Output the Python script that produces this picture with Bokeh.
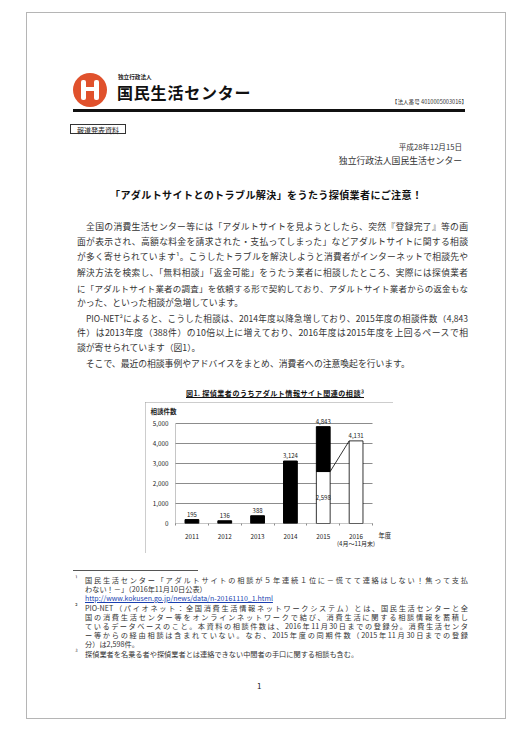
from bokeh.plotting import figure
from bokeh.models import (Range1d, FixedTicker, NumeralTickFormatter, ColumnDataSource,
                          LabelSet, Label, Div, AllLabels)
from bokeh.layouts import column, row
from bokeh.embed import file_html
from bokeh.resources import INLINE
from bokeh.core.properties import value

# ---------------- data ----------------
years = [2011, 2012, 2013, 2014, 2015, 2016]
year_labels = ["2011", "2012", "2013", "2014", "2015", "2016"]
full_years = [2011, 2012, 2013, 2014]
full_year_counts = [195, 136, 388, 3124]
count_2015 = 4843
same_period_2015 = 2598
count_2016 = 4131
y_ticks = [0, 1000, 2000, 3000, 4000, 5000]

chart_title = "図1. 探偵業者のうちアダルト情報サイト関連の相談³"
y_label = "相談件数"
x_unit = "年度"
period_note = "(4月～11月末)"

body_lines = [
    "　全国の消費生活センター等には「アダルトサイトを見ようとしたら、突然『登録完了』等の画",
    "面が表示され、高額な料金を請求された・支払ってしまった」などアダルトサイトに関する相談",
    "が多く寄せられています¹。こうしたトラブルを解決しようと消費者がインターネットで相談先や",
    "解決方法を検索し、「無料相談」「返金可能」をうたう業者に相談したところ、実際には探偵業者",
    "に「アダルトサイト業者の調査」を依頼する形で契約しており、アダルトサイト業者からの返金もな",
    "かった、といった相談が急増しています。",
    "　PIO-NET²によると、こうした相談は、2014年度以降急増しており、2015年度の相談件数（4,843",
    "件）は2013年度（388件）の10倍以上に増えており、2016年度は2015年度を上回るペースで相",
    "談が寄せられています（図1）。",
    "　そこで、最近の相談事例やアドバイスをまとめ、消費者への注意喚起を行います。",
]
body_justify = [True, True, True, True, True, False, True, True, False, False]

foot_lines = [
    ("¹", "国民生活センター「アダルトサイトの相談が５年連続１位に－慌てて連絡はしない！焦って支払", True),
    ("", "わない！－」（2016年11月10日公表）", False),
    ("", "URL", False),
    ("²", "PIO-NET（パイオネット：全国消費生活情報ネットワークシステム）とは、国民生活センターと全", True),
    ("", "国の消費生活センター等をオンラインネットワークで結び、消費生活に関する相談情報を蓄積し", True),
    ("", "ているデータベースのこと。本資料の相談件数は、2016年11月30日までの登録分。消費生活センタ", True),
    ("", "ー等からの経由相談は含まれていない。なお、2015年度の同期件数（2015年11月30日までの登録", True),
    ("", "分）は2,598件。", False),
    ("³", "探偵業者を名乗る者や探偵業者とは連絡できない中間者の手口に関する相談も含む。", False),
]
url_text = "http://www.kokusen.go.jp/news/data/n-20161110_1.html"

FONT = "'Noto Sans CJK JP', 'Noto Sans', sans-serif"
W = 519
BORDER = "#b5b5b5"
PL, PR, PT, PB = 26, 505, 12, 718


def em_len(s):
    return sum(0.56 if ord(c) < 0x2000 else 1.0 for c in s)


def txt(x, yc, s, size, width=None, justify=False, bold=False, color="#333",
        right=False, extra=""):
    if justify and width:
        size = min(size, width / (em_len(s) + 1.0))
    top = yc - size * 0.6
    st = (f"position:absolute;top:{top:.1f}px;font-size:{size:.2f}px;line-height:1.2;"
          f"font-family:{FONT};color:{color};font-weight:{'bold' if bold else 'normal'};")
    if right:
        st += f"right:{W - x}px;white-space:nowrap;text-align:right;"
    else:
        st += f"left:{x}px;"
    if justify and width:
        st += (f"width:{width}px;text-align:justify;"
               "text-align-last:justify;text-justify:inter-character;")
    else:
        st += "white-space:nowrap;"
    return f'<div style="{st}{extra}">{s}</div>'


def box(x, y, w, h, color, extra=""):
    return (f'<div style="position:absolute;left:{x}px;top:{y}px;width:{w}px;height:{h}px;'
            f'background:{color};{extra}"></div>')


def page_div(parts, h):
    html = (f'<div style="position:relative;width:{W}px;height:{h}px;'
            f'background:white;">' + "".join(parts) + "</div>")
    return Div(text=html, width=W, height=h, margin=0)


# ---------------- top part (y 0..402) ----------------
TOP_H = 402
top = [
    box(PL, PT, PR - PL, 1, BORDER),
    box(PL, PT, 1, TOP_H - PT, BORDER),
    box(PR, PT, 1, TOP_H - PT, BORDER),
    # logo
    box(73, 73, 34, 34, "#e0512c", "border-radius:50%;"),
    box(81, 80, 5, 20, "white", "border-radius:2px;"),
    box(94, 80, 5, 20, "white", "border-radius:2px;"),
    box(81, 87, 18, 4, "white"),
    txt(118, 77, "独立行政法人", 5.6, bold=True, color="#222"),
    txt(117, 93, "国民生活センター", 16, bold=True, color="#111", extra="letter-spacing:0.8px;"),
    txt(467, 102, "【法人番号 4010005003016】", 5.6, right=True, color="#333"),
    box(73, 109, 392, 3, "#111"),
    f'<div style="position:absolute;left:70px;top:124px;width:56px;height:10px;'
    f'border:1px solid #333;font-family:{FONT};font-size:7px;line-height:10px;'
    f'text-align:center;color:#222;">報道発表資料</div>',
    txt(462, 147, "平成28年12月15日", 7.6, right=True),
    txt(462, 161, "独立行政法人国民生活センター", 8.8, right=True),
    txt(110, 195, "「アダルトサイトとのトラブル解決」をうたう探偵業者にご注意！", 10.6,
        width=312, justify=True, bold=True, color="#111"),
]
BX, BW = 77, 391
for i, (s, j) in enumerate(zip(body_lines, body_justify)):
    top.append(txt(BX, 227 + 15.2 * i, s, 8.8, width=BW if j else None, justify=j))
top.append(txt(186, 393, chart_title, 7.8, width=178, justify=True, bold=True, color="#111",
               extra="text-decoration:underline;"))
top_div = page_div(top, TOP_H)

# ---------------- chart (x 145..393, y 402..553) ----------------
CH_W, CH_H = 248, 151
PX_PER_YEAR = 197 / 6.0        # 2010.5 .. 2016.5 over 197 px
PX_PER_UNIT = 100 / 5000.0     # 0 .. 5000 over 100 px
x0 = 2010.5 - 30 / PX_PER_YEAR
y0 = -30 / PX_PER_UNIT
p = figure(width=CH_W, height=CH_H,
           x_range=Range1d(x0, x0 + CH_W / PX_PER_YEAR),
           y_range=Range1d(y0, y0 + CH_H / PX_PER_UNIT),
           output_backend="svg", toolbar_location=None,
           min_border=0, min_border_left=0, min_border_right=0,
           min_border_top=0, min_border_bottom=0)
p.styles = {"outline": "1px solid #9a9a9a", "outline-offset": "-1px"}
p.outline_line_color = None
p.background_fill_color = "white"
p.border_fill_color = "white"
p.xgrid.visible = False
p.ygrid.visible = False

# axes pinned inside the frame
p.yaxis.fixed_location = 2010.5
p.xaxis.fixed_location = 0
p.yaxis.bounds = (-1, 5001)
p.xaxis.bounds = (2010.5, 2016.5)
p.yaxis.ticker = FixedTicker(ticks=y_ticks)
p.yaxis.formatter = NumeralTickFormatter(format="0,0")
p.xaxis.ticker = FixedTicker(ticks=years, minor_ticks=[y + 0.5 for y in [2010] + years])
p.xaxis.major_label_overrides = {y: l for y, l in zip(years, year_labels)}
for ax in (p.xaxis, p.yaxis):
    ax.axis_line_color = "#8c8c8c"
    ax.axis_line_dash = "1 1"
    ax.major_tick_in = 0
    ax.major_tick_out = 0
    ax.major_label_policy = AllLabels()
    ax.major_label_text_font = "Noto Sans CJK JP"
    ax.major_label_text_font_size = "6.3px"
    ax.major_label_text_color = "#222"
p.xaxis.minor_tick_in = 0
p.xaxis.minor_tick_out = 2
p.xaxis.minor_tick_line_color = "#8c8c8c"
p.yaxis.minor_tick_line_color = None
p.yaxis.major_label_standoff = 7
p.xaxis.major_label_standoff = 8

# horizontal grid lines (1,000 .. 5,000) over the plotted span only
grid_y = y_ticks[1:]
p.segment(x0=[2010.5] * len(grid_y), x1=[2016.5] * len(grid_y), y0=grid_y, y1=grid_y,
          line_color="#8c8c8c", line_width=1)

BAR_W = 0.42
p.vbar(x=full_years, top=full_year_counts, width=BAR_W, fill_color="black", line_color="black")
p.vbar(x=[2015], bottom=[0], top=[same_period_2015], width=BAR_W, fill_color="white",
       line_color="black", line_width=0.8)
p.vbar(x=[2015], bottom=[same_period_2015], top=[count_2015], width=BAR_W, fill_color="black",
       line_color="black")
p.vbar(x=[2016], bottom=[0], top=[count_2016], width=BAR_W, fill_color="white",
       line_color="black", line_width=0.8)
p.line(x=[2015 + BAR_W / 2, 2016 - BAR_W / 2], y=[same_period_2015, count_2016],
       line_color="black", line_width=0.8)

lab_src = ColumnDataSource(dict(
    x=full_years + [2015, 2016],
    y=full_year_counts + [count_2015, count_2016],
    t=[f"{v:,}" for v in full_year_counts + [count_2015, count_2016]],
))
p.add_layout(LabelSet(x="x", y="y", text="t", source=lab_src, y_offset=3,
                      text_align="center", text_baseline="bottom",
                      text_font=value("Noto Sans CJK JP"), text_font_size=value("6px"),
                      text_color="#222"))
p.add_layout(Label(x=2015, y=same_period_2015 / 2, text=f"{same_period_2015:,}",
                   text_align="center", text_baseline="middle", text_font="Noto Sans CJK JP",
                   text_font_size="6px", text_color="#222"))
p.add_layout(Label(x=2010.5, y=5000, x_offset=-25, y_offset=13, text=y_label,
                   text_align="left", text_baseline="middle", text_font="Noto Sans CJK JP",
                   text_font_size="6.5px", text_font_style="bold", text_color="#222"))
p.add_layout(Label(x=2016.5, y=0, x_offset=6, y_offset=-12, text=x_unit,
                   text_align="left", text_baseline="middle", text_font="Noto Sans CJK JP",
                   text_font_size="6.3px", text_color="#222"))
p.add_layout(Label(x=2016, y=0, y_offset=-20, text=period_note,
                   text_align="center", text_baseline="middle", text_font="Noto Sans CJK JP",
                   text_font_size="6px", text_color="#222"))

left_div = Div(text=f'<div style="position:relative;width:145px;height:{CH_H}px;background:white;">'
               + box(PL, 0, 1, CH_H, BORDER) + "</div>", width=145, height=CH_H, margin=0)
right_div = Div(text=f'<div style="position:relative;width:126px;height:{CH_H}px;background:white;">'
                + box(PR - 393, 0, 1, CH_H, BORDER) + "</div>", width=126, height=CH_H, margin=0)

# ---------------- bottom part (y 553..732) ----------------
BOT_H = 732 - TOP_H - CH_H
Y0 = TOP_H + CH_H
bot = [
    box(PL, 0, 1, PB - Y0, BORDER),
    box(PR, 0, 1, PB - Y0, BORDER),
    box(PL, PB - Y0, PR - PL + 1, 1, BORDER),
    box(73, 570 - Y0, 125, 1, "#555"),
]
FX, FW = 85, 383
fy = [580, 589, 598, 608, 617, 626, 635, 644, 654]
for (mark, s, j), yc in zip(foot_lines, fy):
    if mark:
        bot.append(txt(75, yc - 1 - Y0, mark, 6.5, color="#333"))
    if s == "URL":
        bot.append(txt(FX, yc - Y0, url_text, 7, color="#1a3fb0",
                       extra="text-decoration:underline;"))
    else:
        bot.append(txt(FX, yc - Y0, s, 7.2, width=FW if j else None, justify=j))
bot.append(txt(257, 686 - Y0, "1", 8, color="#222"))
bot_div = page_div(bot, BOT_H)

layout = column(top_div, row(left_div, p, right_div, spacing=0), bot_div, spacing=0)
open("out.html", "w").write(file_html(layout, INLINE))
